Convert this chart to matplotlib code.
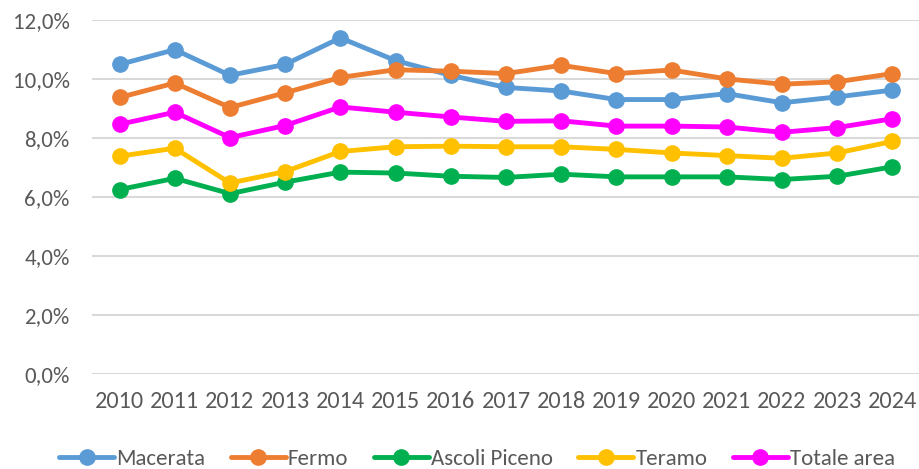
import matplotlib
matplotlib.use('Agg')
import numpy as np
from matplotlib import pyplot as plt
from matplotlib.ticker import FuncFormatter

plt.rcParams['font.family'] = ['Carlito', 'DejaVu Sans']

years = [str(y) for y in range(2010, 2025)]
macerata = [10.50, 11.00, 10.13, 10.50, 11.40, 10.63, 10.13, 9.72, 9.60, 9.31, 9.31, 9.51, 9.20, 9.40, 9.63]
fermo = [9.38, 9.87, 9.04, 9.54, 10.06, 10.32, 10.27, 10.19, 10.47, 10.19, 10.31, 10.01, 9.83, 9.91, 10.19]
ascoli = [6.26, 6.64, 6.12, 6.51, 6.85, 6.82, 6.71, 6.67, 6.78, 6.69, 6.69, 6.69, 6.60, 6.71, 7.03]
teramo = [7.39, 7.66, 6.48, 6.87, 7.55, 7.71, 7.73, 7.71, 7.71, 7.62, 7.50, 7.41, 7.32, 7.50, 7.89]
totale = [8.47, 8.88, 8.02, 8.43, 9.06, 8.88, 8.72, 8.57, 8.59, 8.41, 8.41, 8.38, 8.20, 8.36, 8.66]

series = [('Macerata', macerata, '#5B9BD5'),
          ('Fermo', fermo, '#ED7D31'),
          ('Ascoli Piceno', ascoli, '#00B050'),
          ('Teramo', teramo, '#FFC000'),
          ('Totale area', totale, '#FF00FF')]

fig = plt.figure(figsize=(9.2, 4.69), dpi=100)
ax = fig.add_axes([0.1, 0.202, 0.9, 0.755])

x = np.arange(len(years))
for name, vals, col in series:
    ax.plot(x, vals, color=col, lw=3.5, marker='o', ms=11, label=name,
            solid_capstyle='round', solid_joinstyle='round')

ax.set_xlim(-0.5, len(years) - 0.5)
ax.set_ylim(0, 12)
ax.set_yticks(np.arange(0, 12.1, 2))
ax.yaxis.set_major_formatter(FuncFormatter(lambda v, p: ('%.1f%%' % v).replace('.', ',')))
ax.set_xticks(x)
ax.set_xticklabels(years)
ax.grid(axis='y', color='#D9D9D9', lw=1.5)
ax.set_axisbelow(True)
for s in ax.spines.values():
    s.set_visible(False)
ax.tick_params(length=0, colors='#595959')
ax.tick_params(axis='x', pad=12, labelsize=17.5)
ax.tick_params(axis='y', pad=16, labelsize=16.5)

ax.legend(loc='center', bbox_to_anchor=(0.465, -0.24), ncol=5, frameon=False,
          fontsize=16.5, handlelength=2.4, columnspacing=1.1, handletextpad=0.1,
          labelcolor='#595959')

fig.savefig('out.png', dpi=100)
